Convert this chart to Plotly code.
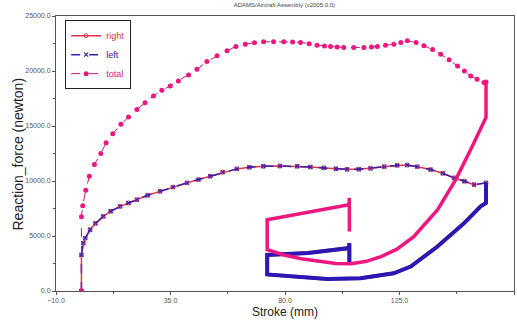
import plotly.graph_objects as go

# ---- data ----
# Compression (loading) stroke of the total reaction force
total_load_stroke = [0, 0, 0.5, 1.7, 3.1, 5.1, 7.6, 9.7, 12.3, 15.5, 18.5, 21.8, 25.0, 28.3,
                     31.6, 34.9, 38.1, 42.1, 45.4, 49.3, 53.3, 57.2, 60.7, 64.4, 68.0, 71.6,
                     75.5, 79.5, 83.0, 86.1, 89.5, 92.6, 95.5, 97.9, 100.5, 103.1, 107.0, 111.0,
                     114.0, 116.3, 119.5, 122.8, 125.5, 128.1, 131.5, 134.6, 138.0, 141.2,
                     144.5, 147.8, 150.5, 153.0, 155.5, 158.2, 159.0]
total_load_force = [0, 6750, 7750, 9150, 10430, 11500, 12500, 13470, 14300, 15150, 15810,
                    16510, 17120, 17730, 18250, 18640, 19100, 19640, 20160, 20860, 21380,
                    21830, 22230, 22440, 22560, 22650, 22670, 22650, 22630, 22600, 22480,
                    22350, 22280, 22230, 22180, 22140, 22130, 22140, 22180, 22230, 22330,
                    22440, 22600, 22750, 22600, 22290, 21950, 21530, 21020, 20460, 20000,
                    19550, 19250, 18950, 19000]
# Rebound / second cycle of the total
total_reb_stroke = [159.0, 159.0, 153.0, 147.1, 140.0, 130.6, 124.0, 118.0, 112.0, 106.0,
                    100.0, 94.0, 87.0, 80.0, 73.0, 73.0, 89.0, 105.1, 105.3, 105.3]
total_reb_force = [19000, 15780, 12860, 10130, 7390, 4930, 3800, 3150, 2700, 2470,
                   2500, 2650, 2900, 3250, 3750, 6480, 7150, 7850, 8460, 5410]

# Left strut (loading)
left_load_stroke = [0, 0, 0.75, 1.5, 3.4, 5.5, 8.6, 11.5, 15.2, 18.5, 21.8, 26.0, 30.9, 36.0,
                    41.5, 46.0, 50.6, 55.5, 61.1, 66.0, 71.5, 78.0, 84.8, 90.0, 95.2, 100.0,
                    104.4, 109.0, 113.6, 119.0, 124.1, 128.0, 132.0, 137.2, 142.0, 146.4,
                    150.5, 154.3, 159.0]
left_load_force = [0, 3280, 4350, 4800, 5570, 6150, 6780, 7250, 7690, 8000, 8300, 8700, 9060,
                   9450, 9830, 10130, 10430, 10800, 11100, 11250, 11340, 11360, 11340, 11270,
                   11190, 11110, 11060, 11070, 11150, 11300, 11420, 11450, 11300, 11040, 10700,
                   10280, 9980, 9670, 9830]
# Left strut (rebound)
left_reb_stroke = [159.0, 159.0, 156.9, 150.4, 139.9, 129.4, 122.7, 109.7, 96.6, 83.4, 73.0,
                   73.0, 89.0, 105.1, 105.3, 105.3]
left_reb_force = [9830, 8000, 7700, 6170, 4040, 2220, 1610, 1160, 1090, 1300, 1500,
                  3280, 3450, 3900, 4350, 2530]

# Right strut (coincides with the left one in the picture)
right_load_stroke = [0, 0, 0.75, 1.5, 3.4, 5.5, 8.6, 11.5, 15.2, 18.5, 21.8, 26.0, 30.9, 36.0,
                     41.5, 46.0, 50.6, 55.5, 61.1, 66.0, 71.5, 78.0, 84.8, 90.0, 95.2, 100.0,
                     104.4, 109.0, 113.6, 119.0, 124.1, 128.0, 132.0, 137.2, 142.0, 146.4,
                     150.5, 154.3, 159.0]
right_load_force = [0, 3280, 4350, 4800, 5570, 6150, 6780, 7250, 7690, 8000, 8300, 8700, 9060,
                    9450, 9830, 10130, 10430, 10800, 11100, 11250, 11340, 11360, 11340, 11270,
                    11190, 11110, 11060, 11070, 11150, 11300, 11420, 11450, 11300, 11040, 10700,
                    10280, 9980, 9670, 9830]
right_reb_stroke = [159.0, 159.0, 156.9, 150.4, 139.9, 129.4, 122.7, 109.7, 96.6, 83.4, 73.0,
                    73.0, 89.0, 105.1, 105.3, 105.3]
right_reb_force = [9830, 8000, 7700, 6170, 4040, 2220, 1610, 1160, 1090, 1300, 1500,
                   3280, 3450, 3900, 4350, 2530]

series_names = ["right", "left", "total"]
title_text = "ADAMS/Aircraft Assembly (v2005.0.0)"
x_title = "Stroke (mm)"
y_title = "Reaction_force (newton)"

RED = "#e03848"
BLUE = "#3a1eb0"
PINK = "#ee1680"
FONT = "Arial, Liberation Sans, sans-serif"

fig = go.Figure()

# right
fig.add_trace(go.Scatter(
    x=right_load_stroke, y=right_load_force, mode="lines+markers",
    name='<span style="color:#c83a3a">' + series_names[0] + '</span>',
    line=dict(color=RED, width=1.5),
    marker=dict(symbol="circle-open", size=4, color=RED, line=dict(width=1, color=RED)),
    legendgroup="r"))
fig.add_trace(go.Scatter(
    x=right_reb_stroke, y=right_reb_force, mode="lines", showlegend=False,
    line=dict(color=RED, width=3.5), legendgroup="r"))

# left
fig.add_trace(go.Scatter(
    x=left_load_stroke, y=left_load_force, mode="lines+markers",
    name='<span style="color:#2a20a8">' + series_names[1] + '</span>',
    line=dict(color=BLUE, width=1.5, dash="dash"),
    marker=dict(symbol="x-thin", size=4, color=BLUE, line=dict(width=1.2, color=BLUE)),
    legendgroup="l"))
fig.add_trace(go.Scatter(
    x=left_reb_stroke, y=left_reb_force, mode="lines", showlegend=False,
    line=dict(color="#2c16b4", width=4), legendgroup="l"))

# total
fig.add_trace(go.Scatter(
    x=total_load_stroke, y=total_load_force, mode="lines+markers",
    name='<span style="color:#d81e80">' + series_names[2] + '</span>',
    line=dict(color="#c81872", width=1, dash="dash"),
    marker=dict(symbol="circle", size=5, color=PINK),
    legendgroup="t"))
fig.add_trace(go.Scatter(
    x=total_reb_stroke, y=total_reb_force, mode="lines", showlegend=False,
    line=dict(color=PINK, width=3.5), legendgroup="t"))

fig.update_layout(
    width=517, height=326,
    margin=dict(l=56, r=3, t=16, b=35),
    paper_bgcolor="white", plot_bgcolor="white",
    font=dict(family=FONT, color="#333"),
    title=dict(text=title_text, x=0.55, xanchor="center", y=0.99, yanchor="top",
               font=dict(size=6, color="#444")),
    showlegend=True,
    legend=dict(x=0.02, y=0.985, xanchor="left", yanchor="top",
                bgcolor="white", bordercolor="#222", borderwidth=1,
                font=dict(size=9, family=FONT), tracegroupgap=0,
                itemwidth=30),
    annotations=[dict(text=y_title, xref="paper", yref="paper", x=-0.083, y=0.5,
                      xanchor="center", yanchor="middle", textangle=-90, showarrow=False,
                      font=dict(size=14, color="#222", family=FONT))],
)

fig.update_xaxes(
    range=[-10, 170], tick0=-10, dtick=45, tickformat=".1f",
    showgrid=False, zeroline=False,
    showline=True, linecolor="#555", linewidth=1, mirror=True,
    ticks="outside", ticklen=3, tickcolor="#555",
    minor=dict(dtick=22.5, tick0=-10, ticks="outside", ticklen=2, tickcolor="#555"),
    tickfont=dict(size=7, color="#555"),
    title=dict(text=x_title, font=dict(size=12, color="#222"), standoff=4),
)
fig.update_yaxes(
    range=[0, 25000], tick0=0, dtick=5000, tickformat=".1f",
    showgrid=False, zeroline=False,
    showline=True, linecolor="#555", linewidth=1, mirror=True,
    ticks="outside", ticklen=3, tickcolor="#555",
    minor=dict(dtick=2500, ticks="outside", ticklen=2, tickcolor="#555"),
    tickfont=dict(size=7, color="#555"),
)

fig.write_html("out.html",
               config={"displayModeBar": False},
               post_script="document.body.style.margin='0';document.body.style.padding='0';")
